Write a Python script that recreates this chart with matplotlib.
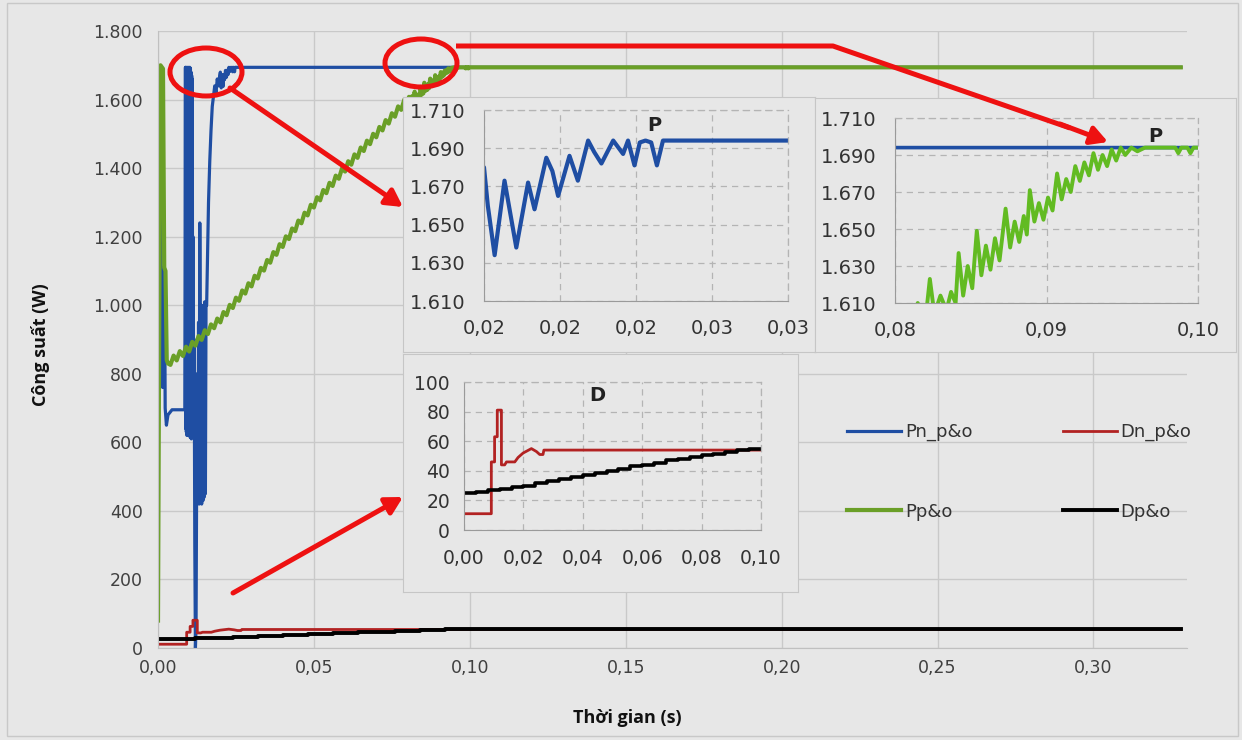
import matplotlib
matplotlib.use("Agg")
import matplotlib.pyplot as plt
from matplotlib.patches import Ellipse, Rectangle
from matplotlib.ticker import FuncFormatter, MultipleLocator

# time in s, power in W, duty in %
pn_t = [0.0000, 0.0003, 0.0005, 0.0009, 0.0011, 0.0015, 0.0018, 0.0021, 0.0023, 0.0027, 0.0032, 0.0045, 0.0086,
        0.0088, 0.0089, 0.0090, 0.0091, 0.0092, 0.0093, 0.0094, 0.0095, 0.0096, 0.0097, 0.0098, 0.0099, 0.0100,
        0.0101, 0.0102, 0.0103, 0.0104, 0.0105, 0.0106, 0.0107, 0.0108, 0.0109, 0.0110, 0.0111, 0.0112,
        0.0114, 0.0116, 0.0118, 0.0120, 0.0122, 0.0124, 0.0126, 0.0128, 0.0130, 0.0132, 0.0134,
        0.0135, 0.0136, 0.0138, 0.0140, 0.0142, 0.0144, 0.0146, 0.0148, 0.0150, 0.0152, 0.0154, 0.0156,
        0.0158, 0.0162, 0.0166, 0.0170, 0.0174, 0.0178, 0.0182, 0.0186, 0.0190, 0.0194, 0.0198,
        0.02000, 0.02010, 0.02028, 0.02054, 0.02085, 0.02116, 0.02133, 0.02164, 0.02180, 0.02195, 0.02225,
        0.02247, 0.02274, 0.02290, 0.02309, 0.02340, 0.02366, 0.02379, 0.02396, 0.02410, 0.02425, 0.02440,
        0.02455, 0.02471, 0.328]
pn_p = [760, 820, 1515, 1480, 800, 760, 1110, 1100, 700, 650, 680, 695, 695,
        1694, 640, 1694, 630, 1690, 620, 1694, 640, 1690, 625, 1694, 620, 1690,
        630, 1694, 615, 1690, 620, 1680, 610, 1670, 620, 1660, 640, 1200,
        700, 900, 300, 0, 60, 500, 800, 430, 950, 420, 1240,
        1000, 430, 1000, 420, 980, 430, 1000, 440, 1010, 450, 1000, 1000,
        1100, 1300, 1420, 1510, 1580, 1610, 1640, 1620, 1660, 1640, 1670,
        1680, 1660, 1634, 1673, 1638, 1672, 1658, 1685, 1678, 1665, 1686,
        1673, 1694, 1688, 1682, 1694, 1687, 1694, 1681, 1693, 1694, 1693,
        1681, 1694, 1694]

pp_t = [0.0000, 0.0003, 0.0008, 0.0016, 0.0020, 0.0024, 0.0028, 0.0032,
        0.004, 0.005, 0.006, 0.007, 0.008, 0.009, 0.010, 0.011, 0.012, 0.013, 0.014, 0.015, 0.016,
        0.017, 0.018, 0.019, 0.020, 0.021, 0.022, 0.023, 0.024, 0.025, 0.026, 0.027, 0.028, 0.029,
        0.030, 0.031, 0.032, 0.033, 0.034, 0.035, 0.036, 0.037, 0.038, 0.039, 0.040, 0.041, 0.042,
        0.043, 0.044, 0.045, 0.046, 0.047, 0.048, 0.049, 0.050, 0.051, 0.052, 0.053, 0.054, 0.055,
        0.056, 0.057, 0.058, 0.059, 0.060, 0.061, 0.062, 0.063, 0.064, 0.065, 0.066, 0.067, 0.068,
        0.069, 0.070, 0.071, 0.072, 0.073, 0.074, 0.075, 0.076, 0.077, 0.078, 0.079, 0.080,
        0.0805, 0.0810, 0.0815, 0.0820, 0.0823, 0.0826, 0.0830, 0.0834, 0.0837, 0.0840, 0.0842,
        0.0845, 0.0848, 0.0851, 0.0854, 0.0857, 0.0860, 0.0863, 0.0866, 0.0869, 0.0873, 0.0876,
        0.0879, 0.0882, 0.0885, 0.0887, 0.0889, 0.0892, 0.0895, 0.0898, 0.0901, 0.0904, 0.0907,
        0.0910, 0.0913, 0.0916, 0.0919, 0.0922, 0.0925, 0.0928, 0.0931, 0.0934, 0.0937, 0.0940,
        0.0943, 0.0946, 0.0949, 0.0952, 0.0956, 0.0960, 0.0965, 0.0985, 0.0987, 0.0989, 0.0993,
        0.0995, 0.0997, 0.328]
pp_p = [80, 760, 1700, 1690, 1110, 1100, 840, 830,
        826, 853, 839, 866, 852, 879, 865, 893, 882, 910, 899, 927, 916,
        944, 933, 961, 950, 980, 971, 1001, 992, 1022, 1013, 1043, 1034, 1064,
        1055, 1086, 1078, 1109, 1101, 1132, 1124, 1155, 1147, 1178, 1170, 1201, 1193,
        1224, 1216, 1247, 1239, 1270, 1262, 1293, 1285, 1315, 1306, 1336, 1327, 1357,
        1348, 1378, 1369, 1399, 1390, 1420, 1410, 1440, 1430, 1460, 1450, 1480, 1470,
        1500, 1490, 1520, 1510, 1540, 1530, 1560, 1550, 1580, 1570, 1600, 1590,
        1608, 1596, 1610, 1600, 1623, 1604, 1614, 1606, 1616, 1610, 1637,
        1614, 1630, 1618, 1649, 1625, 1641, 1628, 1645, 1633, 1661, 1640,
        1654, 1643, 1657, 1647, 1671, 1654, 1664, 1655, 1667, 1660, 1680,
        1666, 1677, 1670, 1684, 1676, 1686, 1679, 1691, 1682, 1690, 1684,
        1693, 1687, 1694, 1690, 1694, 1692, 1694, 1694, 1691, 1694, 1694,
        1691, 1694, 1694]

dn_t = [0.0, 0.0092, 0.0092, 0.0103, 0.0103, 0.0112, 0.0112, 0.0126, 0.0126, 0.0137,
        0.0143, 0.0171, 0.0182, 0.0199, 0.0227, 0.0244, 0.0255, 0.0266, 0.0269, 0.328]
dn_d = [11, 11, 46, 46, 63, 63, 81, 81, 44, 44, 46, 46, 49, 52, 55, 53, 51, 51, 54, 54]

dp_t = [0.000, 0.004, 0.008, 0.012, 0.016, 0.020, 0.024, 0.028, 0.032, 0.036, 0.040, 0.044, 0.048,
        0.052, 0.056, 0.060, 0.064, 0.068, 0.072, 0.076, 0.080, 0.084, 0.088, 0.092, 0.096, 0.328]
dp_d = [25, 26, 27, 28, 29, 30, 31.5, 33, 34.5, 36, 37, 38.5, 40,
        41.5, 43, 44, 45.5, 47, 48, 49.5, 50.5, 51.5, 53, 54, 55, 55]

p_zoom_ticks = [1610, 1630, 1650, 1670, 1690, 1710]

BLUE = "#1f4ea3"
GREEN = "#6a9f27"
GREEN_LT = "#62bb22"
RED = "#b22222"
BG = "#e7e7e7"
W, H = 1242, 740


def box(x0, y0, x1, y1):
    # pixel rect (top-left origin) -> figure fraction
    return [x0 / W, 1 - y1 / H, (x1 - x0) / W, (y1 - y0) / H]


def fmt_thousands(v, pos):
    return f"{v:,.0f}".replace(",", ".")


def fmt_comma(v, pos):
    return f"{v:.2f}".replace(".", ",")


def style_inset(ax, size, ypad, xpad):
    ax.set_facecolor(BG)
    ax.grid(True, color="#b4b4b4", linestyle=(0, (5, 4)), linewidth=0.9)
    for s in ["top", "right"]:
        ax.spines[s].set_color("#b4b4b4")
        ax.spines[s].set_linestyle((0, (5, 4)))
        ax.spines[s].set_linewidth(0.9)
    for s in ["left", "bottom"]:
        ax.spines[s].set_color("#9a9a9a")
    ax.tick_params(length=0, labelsize=size, colors="#333333")
    ax.tick_params(axis="y", pad=ypad)
    ax.tick_params(axis="x", pad=xpad)
    ax.yaxis.set_major_formatter(FuncFormatter(fmt_thousands))
    ax.xaxis.set_major_formatter(FuncFormatter(fmt_comma))


fig = plt.figure(figsize=(W / 100, H / 100), dpi=100, facecolor=BG)

# main chart
ax = fig.add_axes(box(158, 31, 1187, 648))
ax.set_facecolor(BG)
l_pn, = ax.plot(pn_t, pn_p, color=BLUE, lw=2.3, label="Pn_p&o")
l_dn, = ax.plot(dn_t, dn_d, color=RED, lw=2.0, label="Dn_p&o")
l_pp, = ax.plot(pp_t, pp_p, color=GREEN, lw=3.0, label="Pp&o")
l_dp, = ax.plot(dp_t, dp_d, color="black", lw=2.8, drawstyle="steps-post", label="Dp&o")
ax.set_xlim(0, 0.33)
ax.set_ylim(0, 1800)
ax.xaxis.set_major_locator(MultipleLocator(0.05))
ax.yaxis.set_major_locator(MultipleLocator(200))
ax.xaxis.set_major_formatter(FuncFormatter(fmt_comma))
ax.yaxis.set_major_formatter(FuncFormatter(fmt_thousands))
ax.grid(True, color="#c9c9c9", linewidth=1.0)
ax.spines["top"].set_visible(False)
ax.spines["right"].set_visible(False)
ax.spines["left"].set_color("#c0c0c0")
ax.spines["bottom"].set_color("#c0c0c0")
ax.tick_params(length=0, labelsize=12.5, colors="#404040")
ax.tick_params(axis="y", pad=11)
ax.tick_params(axis="x", pad=8)

fig.text(40 / W, 1 - 345 / H, "Công suất (W)", rotation=90, ha="center", va="center",
         fontsize=13, fontweight="bold", family=["Open Sans", "DejaVu Sans"], color="#111111")
fig.text(627 / W, 1 - 718 / H, "Thời gian (s)", ha="center", va="center",
         fontsize=13, fontweight="bold", family=["Open Sans", "DejaVu Sans"], color="#111111")

fig.legend([l_pn, l_pp, l_dn, l_dp], ["Pn_p&o", "Pp&o", "Dn_p&o", "Dp&o"], ncol=2,
           loc="upper left", bbox_to_anchor=(838 / W, 1 - 414 / H), frameon=False,
           fontsize=13, handlelength=3.0, handletextpad=0.2, columnspacing=5.0,
           labelspacing=3.4, borderpad=0, labelcolor="#333333")

# inset frames
for x0, y0, x1, y1 in [(403, 97, 815, 352), (815, 98, 1236, 352), (403, 354, 798, 592)]:
    fr = fig.add_axes(box(x0, y0, x1, y1), zorder=2)
    fr.set_facecolor(BG)
    fr.set_xticks([])
    fr.set_yticks([])
    for s in fr.spines.values():
        s.set_color("#c6c6c6")

# inset 1 : Pn_p&o zoom
a1 = fig.add_axes(box(484, 110, 788, 301), zorder=3)
a1.plot(pn_t, pn_p, color=BLUE, lw=3.0, solid_joinstyle="round")
a1.set_xlim(0.020, 0.028)
a1.set_ylim(1610, 1710)
a1.xaxis.set_major_locator(MultipleLocator(0.002))
a1.set_yticks(p_zoom_ticks)
style_inset(a1, 14, 13, 13)
a1.text(0.56, 0.92, "P", transform=a1.transAxes, ha="center", va="center",
        fontsize=14, fontweight="bold", color="#222222")

# inset 2 : Pp&o zoom
a2 = fig.add_axes(box(895, 118, 1198, 303), zorder=3)
a2.plot(pn_t, pn_p, color=BLUE, lw=2.6)
a2.plot(pp_t, pp_p, color=GREEN_LT, lw=2.8, solid_joinstyle="round")
a2.set_xlim(0.08, 0.10)
a2.set_ylim(1610, 1710)
a2.xaxis.set_major_locator(MultipleLocator(0.01))
a2.set_yticks(p_zoom_ticks)
style_inset(a2, 14, 13, 13)
a2.text(0.86, 0.9, "P", transform=a2.transAxes, ha="center", va="center",
        fontsize=14, fontweight="bold", color="#222222")

# inset 3 : duty cycles
a3 = fig.add_axes(box(464, 382, 761, 530), zorder=3)
a3.plot(dn_t, dn_d, color=RED, lw=2.0)
a3.plot(dp_t, dp_d, color="black", lw=2.6, drawstyle="steps-post")
a3.set_xlim(0, 0.10)
a3.set_ylim(0, 100)
a3.xaxis.set_major_locator(MultipleLocator(0.02))
a3.yaxis.set_major_locator(MultipleLocator(20))
style_inset(a3, 13.5, 10, 14)
a3.text(0.45, 0.91, "D", transform=a3.transAxes, ha="center", va="center",
        fontsize=14, fontweight="bold", color="#222222")

# red callouts on top
ov = fig.add_axes([0, 0, 1, 1], zorder=10)
ov.set_xlim(0, W)
ov.set_ylim(H, 0)
ov.axis("off")
ov.patch.set_alpha(0)
red = "#ee1111"
for cx, cy in [(206, 72), (421, 63)]:
    ov.add_patch(Ellipse((cx, cy), 72, 48, fill=False, ec=red, lw=3.6))
ov.plot([456, 833, 1070], [46, 46, 128], color=red, lw=3.6, solid_capstyle="butt")
arrow = dict(arrowstyle="-|>,head_length=1.0,head_width=0.55", color=red, lw=3.6, shrinkA=0, shrinkB=0)
ov.annotate("", xy=(1108, 142), xytext=(1060, 124), arrowprops=arrow)
ov.annotate("", xy=(403, 207), xytext=(230, 88), arrowprops=arrow)
ov.annotate("", xy=(403, 497), xytext=(233, 593), arrowprops=arrow)
ov.add_patch(Rectangle((7, 3), 1231, 733, fill=False, ec="#c8c8c8", lw=1))

fig.savefig("out.png", dpi=100, facecolor=BG)
